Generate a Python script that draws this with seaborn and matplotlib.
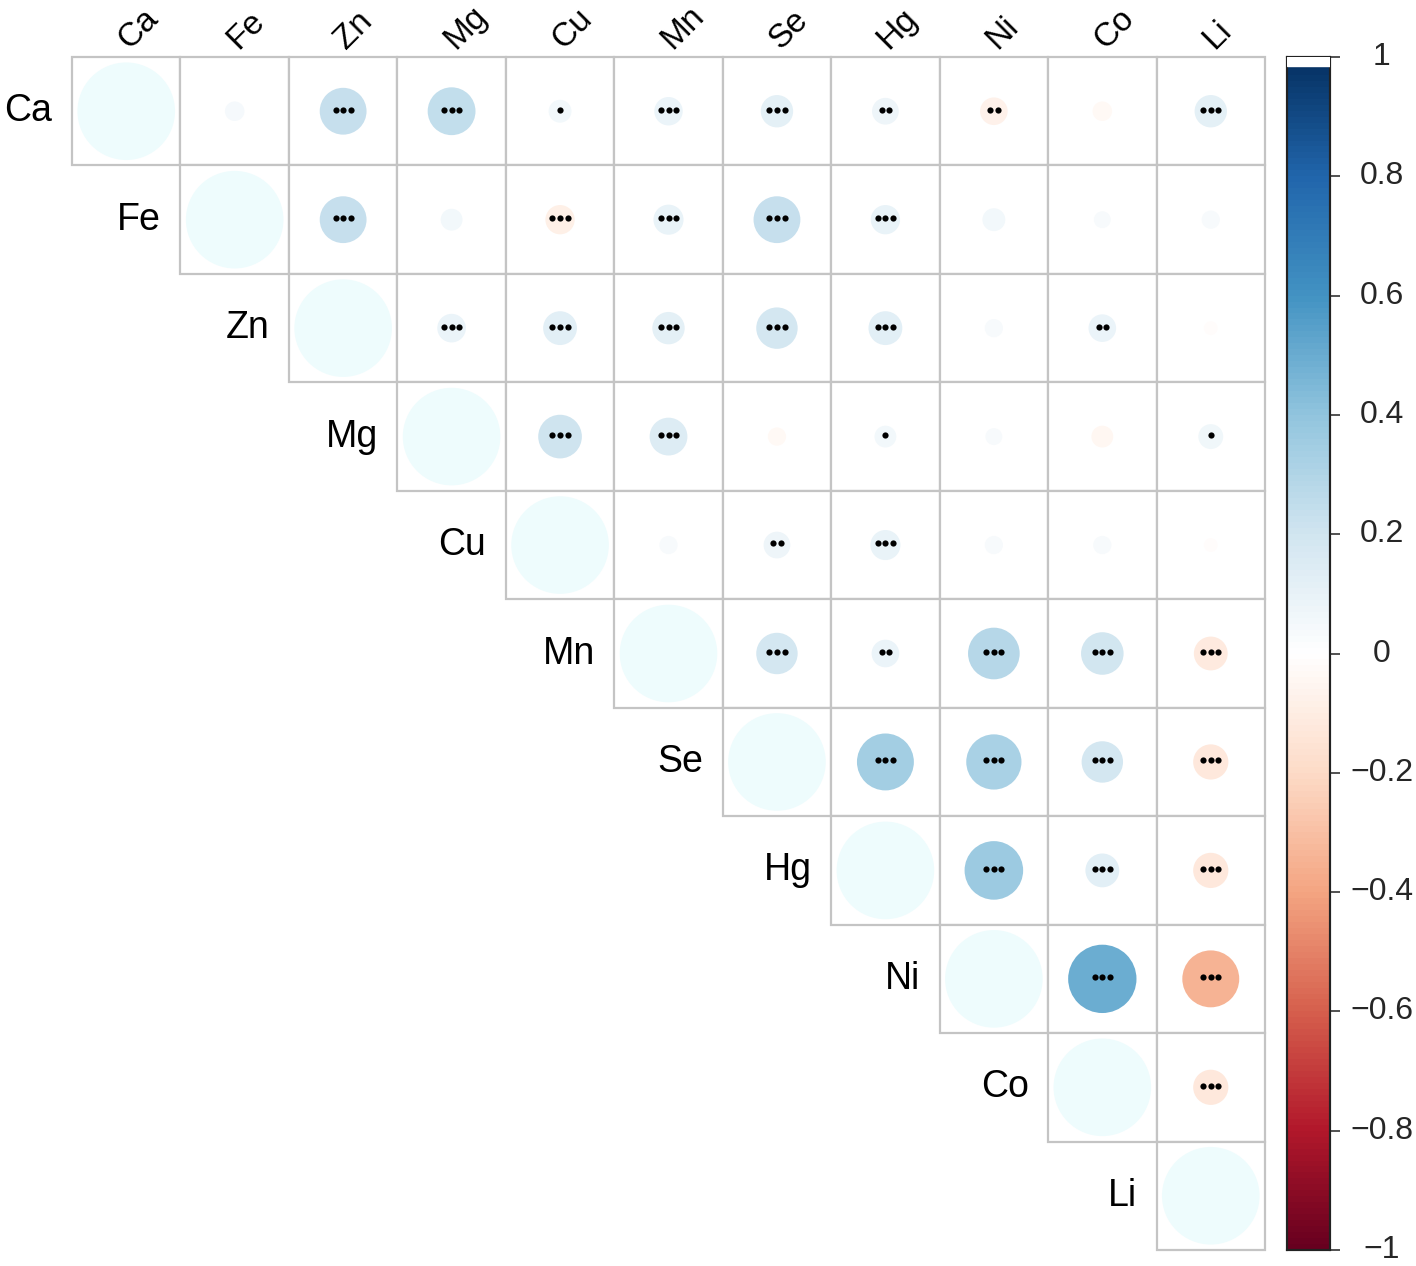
import numpy as np
import pandas as pd
import seaborn as sns
import matplotlib.pyplot as plt
from matplotlib.colors import LinearSegmentedColormap
from matplotlib.patches import Circle, Rectangle

sns.set_style("white")
plt.rcParams['font.family'] = ['Liberation Sans', 'DejaVu Sans']

elements = ["Ca", "Fe", "Zn", "Mg", "Cu", "Mn", "Se", "Hg", "Ni", "Co", "Li"]

# upper-triangle correlations, row by row (excluding diagonal)
r_Ca = [0.04, 0.23, 0.24, 0.055, 0.085, 0.11, 0.075, -0.08, -0.04, 0.11]
r_Fe = [0.23, 0.05, -0.09, 0.095, 0.23, 0.09, 0.055, 0.03, 0.035]
r_Zn = [0.086, 0.12, 0.11, 0.18, 0.12, 0.035, 0.08, -0.02]
r_Mg = [0.20, 0.15, -0.035, 0.05, 0.03, -0.05, 0.065]
r_Cu = [0.035, 0.075, 0.095, 0.035, 0.035, -0.02]
r_Mn = [0.18, 0.08, 0.28, 0.19, -0.12]
r_Se = [0.34, 0.32, 0.18, -0.13]
r_Hg = [0.36, 0.12, -0.13]
r_Ni = [0.49, -0.34]
r_Co = [-0.13]

# significance stars per cell (same layout)
s_Ca = [0, 3, 3, 1, 3, 3, 2, 2, 0, 3]
s_Fe = [3, 0, 3, 3, 3, 3, 0, 0, 0]
s_Zn = [3, 3, 3, 3, 3, 0, 2, 0]
s_Mg = [3, 3, 0, 1, 0, 0, 1]
s_Cu = [0, 2, 3, 0, 0, 0]
s_Mn = [3, 2, 3, 3, 3]
s_Se = [3, 3, 3, 3]
s_Hg = [3, 3, 3]
s_Ni = [3, 3]
s_Co = [3]

rows_r = [r_Ca, r_Fe, r_Zn, r_Mg, r_Cu, r_Mn, r_Se, r_Hg, r_Ni, r_Co, []]
rows_s = [s_Ca, s_Fe, s_Zn, s_Mg, s_Cu, s_Mn, s_Se, s_Hg, s_Ni, s_Co, []]

n = len(elements)
corr = np.eye(n)
sig = np.zeros((n, n), dtype=int)
for i in range(n):
    for k, v in enumerate(rows_r[i]):
        corr[i, i + 1 + k] = v
        sig[i, i + 1 + k] = rows_s[i][k]

cols = ["#67001F", "#B2182B", "#D6604D", "#F4A582", "#FDDBC7", "#FFFFFF",
        "#D1E5F0", "#92C5DE", "#4393C3", "#2166AC", "#053061"]
cmap = LinearSegmentedColormap.from_list("col2", cols, N=200)
diag_color = "#EEFCFD"
grid_color = "#C4C4C4"

W, H = 1416, 1266
fig = plt.figure(figsize=(W / 100, H / 100), dpi=100)
left, right, top, bottom = 72, 1265, 57, 1250
ax = fig.add_axes([left / W, 1 - bottom / H, (right - left) / W, (bottom - top) / H])
cax = fig.add_axes([1287 / W, 1 - bottom / H, 43 / W, (bottom - top) / H])

mask = np.tril(np.ones((n, n), dtype=bool), k=-1)
blank = pd.DataFrame(np.zeros((n, n)), index=elements, columns=elements)
sns.heatmap(blank, mask=mask, cmap=cmap, vmin=-1, vmax=1, linewidths=0,
            cbar=True, cbar_ax=cax, ax=ax, square=False,
            xticklabels=False, yticklabels=False)

for i in range(n):
    for j in range(i, n):
        ax.add_patch(Rectangle((j, i), 1, 1, facecolor="white", edgecolor=grid_color,
                               linewidth=1.6, zorder=2, clip_on=False))
        v = corr[i, j]
        rad = 0.9 * np.sqrt(abs(v)) / 2
        fc = diag_color if i == j else cmap((v + 1) / 2)
        ax.add_patch(Circle((j + 0.5, i + 0.5), rad, facecolor=fc, edgecolor="none", zorder=3))
        ns = sig[i, j]
        if ns > 0:
            xs = j + 0.5 + (np.arange(ns) - (ns - 1) / 2) * 0.07
            ax.scatter(xs, np.full(ns, i + 0.485), s=20, color="black", zorder=4, linewidths=0)

# row labels next to diagonal
for i, name in enumerate(elements):
    ax.text(i - 0.18, i + 0.5, name, ha="right", va="center", fontsize=27, color="black")
# column labels on top, rotated 45 degrees
for j, name in enumerate(elements):
    ax.text(j + 0.53, -0.06, name, ha="left", va="baseline", rotation=45,
            rotation_mode="anchor", fontsize=24, color="black", clip_on=False)

ax.set_xlim(0, n)
ax.set_ylim(n, 0)
for sp in ax.spines.values():
    sp.set_visible(False)

ticks = [-1, -0.8, -0.6, -0.4, -0.2, 0, 0.2, 0.4, 0.6, 0.8, 1]
tick_labels = ["\u22121", "\u22120.8", "\u22120.6", "\u22120.4", "\u22120.2", "0",
               "0.2", "0.4", "0.6", "0.8", "1"]
cax.axhspan(0.985, 1.0, color="white", zorder=5)
cax.set_yticks(ticks)
cax.set_yticklabels([])
cax.tick_params(axis="y", right=True, left=False, length=7, width=1.2, color="#333333")
for t, lab in zip(ticks, tick_labels):
    cax.text(2.2, t, lab, ha="center", va="center", fontsize=23,
             transform=cax.get_yaxis_transform(), clip_on=False)
for sp in cax.spines.values():
    sp.set_visible(True)
    sp.set_color("#222222")
    sp.set_linewidth(1.5)

fig.savefig("out.png", dpi=100, facecolor="white")
